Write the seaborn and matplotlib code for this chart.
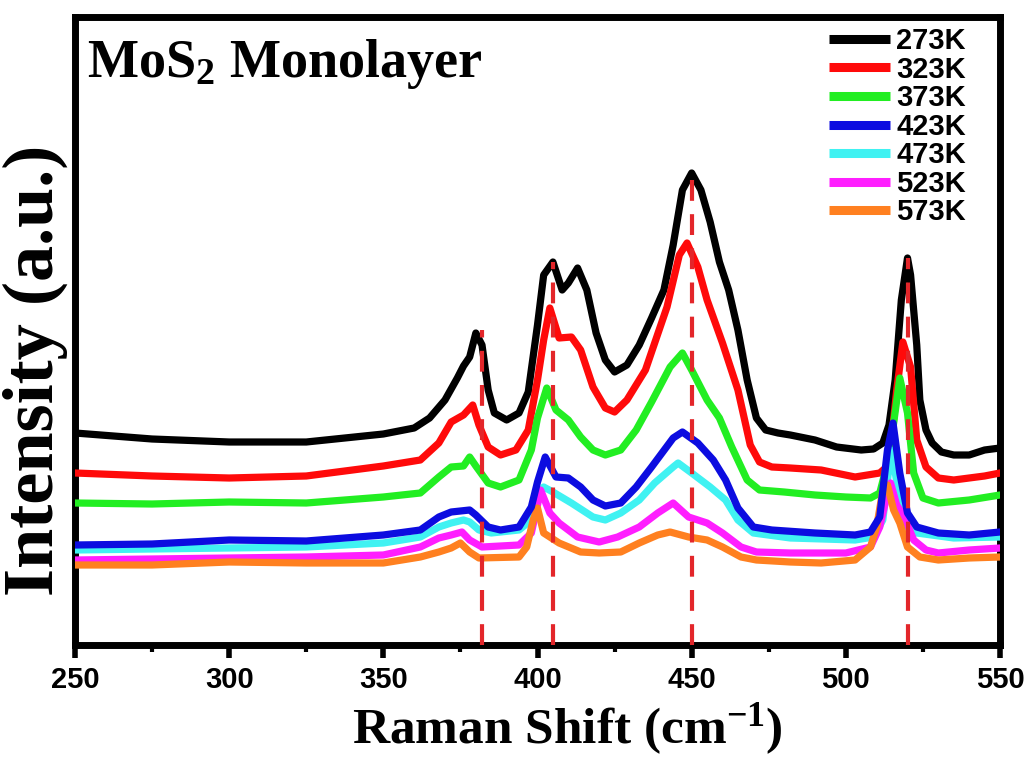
import numpy as np
import pandas as pd
import matplotlib
matplotlib.use("Agg")
import matplotlib.pyplot as plt
import seaborn as sns
from matplotlib.lines import Line2D
from matplotlib.ticker import MultipleLocator

# ---------------- data ----------------
temps = ["273K", "323K", "373K", "423K", "473K", "523K", "573K"]
colors = ["#000000", "#ff0a0a", "#22ee22", "#0c0ce0", "#40f2f2", "#ff1eff", "#ff8020"]

x_273 = [250, 275, 300, 325, 350, 360, 365, 370, 374, 376, 378, 380, 382, 384, 386, 390, 394, 397,
         400, 402, 405, 408, 410, 413, 416, 419, 422, 425, 429, 433, 437, 441, 444, 447, 450, 453,
         456, 459, 462, 465, 468, 471, 474, 478, 482, 490, 497, 505, 509, 512, 514, 516, 518, 520,
         521, 523, 524, 526, 528, 531, 535, 540, 545, 550]
y_273 = [212, 206, 203, 203, 211, 217, 227, 245, 267, 279, 288, 312, 300, 255, 232, 225, 232, 253,
         320, 370, 383, 355, 362, 377, 355, 312, 285, 273, 280, 300, 327, 355, 400, 455, 472, 455,
         423, 383, 355, 315, 265, 227, 215, 212, 210, 205, 198, 195, 196, 202, 220, 265, 345, 387,
         370, 300, 245, 215, 202, 193, 190, 190, 195, 197]

x_323 = [250, 275, 300, 325, 350, 362, 368, 372, 376, 379, 381, 384, 388, 393, 397, 400, 402, 404,
         407, 411, 414, 418, 422, 425, 429, 435, 442, 446, 448.5, 452, 455, 460, 465, 469, 472, 476,
         482, 492, 503, 511, 514, 516.5, 518.5, 521, 523, 526, 530, 535, 545, 550]
y_323 = [172, 169, 167, 169, 179, 185, 202, 223, 230, 240, 220, 198, 190, 195, 215, 265, 305, 337,
         307, 308, 295, 258, 237, 233, 245, 275, 338, 390, 402, 378, 345, 302, 255, 200, 183, 178,
         177, 175, 168, 172, 180, 255, 303, 278, 205, 178, 167, 165, 169, 172]

x_373 = [250, 275, 300, 325, 350, 362, 368, 372, 376, 378, 380, 384, 388, 394, 398, 400, 403, 406,
         410, 414, 418, 422, 427, 432, 437, 443, 447, 450, 455, 459, 463, 468, 472, 480, 490, 500,
         508, 511, 514, 517.5, 520, 522, 525, 530, 540, 550]
y_373 = [142, 141, 143, 142, 148, 152, 168, 178, 179, 188, 179, 162, 158, 165, 195, 227, 257, 235,
         225, 208, 195, 190, 195, 215, 243, 278, 292, 275, 245, 227, 198, 165, 155, 153, 150, 148,
         147, 152, 188, 267, 232, 172, 147, 142, 145, 150]

x_423 = [250, 275, 300, 325, 350, 362, 368, 372, 378, 380, 384, 388, 394, 398, 400, 402.5, 406, 410,
         414, 418, 422, 427, 432, 437, 444, 447, 452, 457, 461, 465, 470, 476, 490, 503, 508, 511,
         513.5, 515.3, 517.5, 520, 523, 530, 540, 550]
y_423 = [100, 101, 105, 104, 110, 115, 128, 133, 135, 130, 118, 115, 118, 138, 163, 188, 168, 167,
         158, 145, 139, 142, 158, 178, 207, 213, 202, 185, 165, 137, 118, 115, 112, 110, 113, 128,
         195, 222, 172, 132, 118, 112, 110, 113]

x_473 = [250, 275, 300, 325, 350, 362, 368, 372, 376, 378, 381, 385, 394, 398, 400, 402, 405, 411,
         418, 422, 427, 433, 438, 444, 445.6, 450, 456, 461, 465, 470, 482, 503, 509, 512, 513.5,
         514.7, 517, 520, 523, 535, 550]
y_473 = [95, 96, 97, 98, 102, 108, 118, 122, 125, 123, 115, 112, 115, 125, 145, 158, 153, 142,
         128, 125, 132, 145, 162, 178, 182, 172, 158, 145, 125, 112, 107, 105, 108, 125, 165,
         195, 155, 118, 112, 107, 108]

x_523 = [250, 275, 300, 325, 350, 362, 368, 372, 375.5, 378, 382, 394, 398, 400, 401, 404, 407, 413,
         420, 426, 433, 439, 444, 449, 455, 460, 466, 471, 482, 500, 508, 511, 513, 514.5, 516.5,
         519, 522, 526, 530, 540, 550]
y_523 = [85, 86, 87, 88, 90, 98, 107, 110, 113, 105, 98, 100, 112, 140, 155, 132, 122, 108,
         103, 108, 118, 132, 142, 128, 122, 112, 98, 93, 92, 92, 98, 118, 145, 162, 140,
         128, 105, 95, 92, 95, 97]

x_573 = [250, 275, 300, 325, 350, 362, 368, 372, 375, 378, 381, 394, 396.5, 398.6, 400, 402, 407,
         414, 420, 427, 433, 439, 443, 449, 455, 460, 466, 471, 482, 492, 503, 508, 510, 512, 513.5,
         515.5, 517.5, 520, 524, 530, 540, 550]
y_573 = [80, 80, 83, 82, 82, 88, 93, 97, 102, 93, 87, 88, 98, 125, 137, 112, 102,
         93, 92, 93, 102, 110, 113, 108, 105, 98, 88, 85, 83, 82, 85, 98, 118, 155, 160,
         135, 122, 98, 88, 85, 87, 88]

peak_pos = [382, 405, 450, 520]
peak_top = [315, 383, 472, 387]

x_ticks = [250, 300, 350, 400, 450, 500, 550]

spectra = {
    "273K": (x_273, y_273),
    "323K": (x_323, y_323),
    "373K": (x_373, y_373),
    "423K": (x_423, y_423),
    "473K": (x_473, y_473),
    "523K": (x_523, y_523),
    "573K": (x_573, y_573),
}

# ---------------- style ----------------
sns.set_style("white")
plt.rcParams["font.family"] = ["Liberation Sans", "DejaVu Sans"]
plt.rcParams["text.color"] = "black"
plt.rcParams["axes.labelcolor"] = "black"
plt.rcParams["xtick.color"] = "black"
plt.rcParams["ytick.color"] = "black"
plt.rcParams["mathtext.fontset"] = "custom"
plt.rcParams["mathtext.rm"] = "Liberation Serif"
plt.rcParams["mathtext.bf"] = "Liberation Serif:bold"
plt.rcParams["mathtext.it"] = "Liberation Serif:italic"

fig = plt.figure(figsize=(10.26, 7.58), dpi=100)
ax = fig.add_axes([75 / 1026, 1 - 645 / 758, 925 / 1026, 628 / 758])

zorders = {"273K": 2, "323K": 3, "373K": 4, "423K": 8, "473K": 5, "523K": 6, "573K": 7}
handles = []
for name, col in zip(temps, colors):
    xs, ys = spectra[name]
    df = pd.DataFrame({"shift": xs, "intensity": ys})
    sns.lineplot(data=df, x="shift", y="intensity", color=col, linewidth=5.2,
                 estimator=None, sort=False, ax=ax, zorder=zorders[name],
                 solid_joinstyle="round", solid_capstyle="round")
    handles.append(Line2D([0], [0], color=col, linewidth=6.5, solid_capstyle="butt"))

ax.vlines(peak_pos, 0, peak_top, colors="#e3262a", linestyles=(0, (5, 3.2)),
          linewidth=3, zorder=10)

ax.set_xlim(250, 550)
ax.set_ylim(0, 628)
ax.set_xlabel("")
ax.set_ylabel("")
ax.set_yticks([])
ax.set_xticks(x_ticks)
ax.xaxis.set_minor_locator(MultipleLocator(25))
ax.tick_params(axis="x", which="major", direction="out", length=9, width=4,
               labelsize=21, pad=6, bottom=True, colors="black")
ax.tick_params(axis="x", which="minor", direction="out", length=5, width=3, bottom=True,
               colors="black")
for lbl in ax.get_xticklabels():
    lbl.set_fontweight("bold")
for sp in ax.spines.values():
    sp.set_visible(True)
    sp.set_linewidth(5)
    sp.set_color("black")

ax.text(0.013, 0.905, r"MoS$_\mathbf{2}$ Monolayer", transform=ax.transAxes, color="black",
        fontsize=39, fontweight="bold", family="Liberation Serif", va="baseline", ha="left")

fig.text(567 / 1026, 1 - 743 / 758, r"Raman Shift (cm$^{\mathbf{-1}}$)", fontsize=37,
         fontweight="bold", family="Liberation Serif", ha="center", va="baseline", color="black")
fig.text(35 / 1026, 1 - 370 / 758, "Intensity (a.u.)", fontsize=52, rotation=90, color="black",
         fontweight="bold", family="Liberation Serif", ha="center", va="center")

leg = ax.legend(handles, temps, loc="upper right", bbox_to_anchor=(966 / 1026, 1 - 27 / 758),
                bbox_transform=fig.transFigure, frameon=False, fontsize=21,
                handlelength=2.1, handletextpad=0.2, labelspacing=0.02, borderpad=0,
                borderaxespad=0)
for t in leg.get_texts():
    t.set_fontweight("bold")
    t.set_color("black")

fig.savefig("out.png", dpi=100)
